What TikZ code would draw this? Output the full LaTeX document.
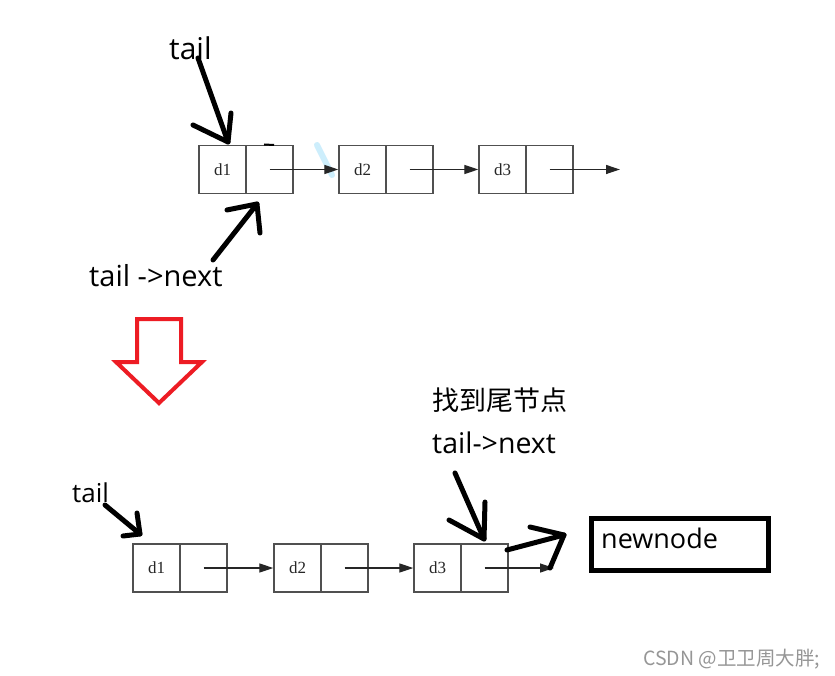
\documentclass[tikz,border=0pt]{standalone}
\usepackage{fontspec}
\setmainfont{Open Sans}
\newfontfamily\cjk{Noto Sans CJK SC}
\newfontfamily\dfont{Liberation Serif}
\usetikzlibrary{arrows.meta}
\definecolor{redarrow}{RGB}{237,28,36}
\definecolor{boxgray}{RGB}{80,80,80}
\definecolor{wmgray}{RGB}{150,150,150}
\definecolor{wmblue}{RGB}{205,238,252}
\tikzset{
  cell/.style={draw=boxgray, line width=1.4pt, minimum width=47pt, minimum height=48pt, inner sep=0pt, font=\dfont\fontsize{17}{17}\selectfont, text=black!85},
  link/.style={line width=1.2pt, draw=black!85, -{Triangle[length=14pt,width=9pt]}},
  hand/.style={line width=5pt, line cap=round, line join=round},
  lbl/.style={inner sep=0pt, anchor=base west},
}
\begin{document}
\begin{tikzpicture}[x=1pt,y=-1pt]
\useasboundingbox (0,0) rectangle (835,676);
\fill[white] (0,0) rectangle (835,676);

% ---- top list ----
\foreach \i/\x in {1/199,2/339,3/479}{
  \node[cell] (ta\i) at (\x+23.5,169.5) {d\i};
  \node[cell] (tn\i) at (\x+70.5,169.5) {};
}
\coordinate (tend) at (620,169.5);
\draw[wmblue, line width=6pt, line cap=round] (317,145) -- (332,175);
\draw[link] (tn1.center) -- (ta2.west);
\draw[link] (tn2.center) -- (ta3.west);
\draw[link] (tn3.center) -- (tend);
% small stroke
\draw[line width=2pt] (264,144.5) -- (274,145);

% top labels
\node[lbl, font=\fontsize{30}{36}\selectfont] (tailA) at (169,60) {tail};
\node[lbl, font=\fontsize{29}{34}\selectfont] (tailnextA) at (89,287) {tail ->next};

\coordinate (a1s) at (198,58);
\coordinate (a1t) at (228,142);
\coordinate (a1l) at (193,125);
\coordinate (a1r) at (231,113);
\draw[hand] (a1s) -- (a1t);
\draw[hand] (a1l) -- (a1t) -- (a1r);

\coordinate (a2s) at (213,260);
\coordinate (a2t) at (257,204);
\coordinate (a2l) at (227,210);
\coordinate (a2r) at (260,233);
\draw[hand] (a2s) -- (a2t);
\draw[hand] (a2l) -- (a2t) -- (a2r);

% ---- red down arrow ----
\draw[redarrow, line width=4pt, line join=miter]
  (137,319) -- (181,319) -- (181,362) -- (202,362) -- (159,403) -- (116,362) -- (137,362) -- cycle;

% ---- bottom list ----
\foreach \i/\x in {1/133,2/274,3/414}{
  \node[cell] (ba\i) at (\x+23.5,568) {d\i};
  \node[cell] (bn\i) at (\x+70.5,568) {};
}
\coordinate (bend) at (554,568);
\draw[link] (bn1.center) -- (ba2.west);
\draw[link] (bn2.center) -- (ba3.west);
\draw[link] (bn3.center) -- (bend);

\node[draw, line width=5pt, minimum width=177pt, minimum height=52pt, inner sep=0pt] (newbox) at (680,544.5) {};
\node[lbl, font=\fontsize{27}{32}\selectfont] (newtxt) at (601,548) {newnode};

\node[lbl, font=\fontsize{26}{32}\selectfont] (tailB) at (72,502) {tail};
\node[lbl, font=\cjk\fontsize{27}{32}\selectfont] (findtail) at (432,410) {找到尾节点};
\node[lbl, font=\fontsize{28.5}{32}\selectfont] (tailnextB) at (432,453) {tail->next};

\coordinate (b1s) at (105,505);
\coordinate (b1t) at (140,534);
\coordinate (b1l) at (123,536);
\coordinate (b1r) at (137,513);
\draw[hand] (b1s) -- (b1t);
\draw[hand] (b1l) -- (b1t) -- (b1r);

\coordinate (b2s) at (455,473);
\coordinate (b2t) at (484,539);
\coordinate (b2l) at (449,520);
\coordinate (b2r) at (485,502);
\draw[hand] (b2s) -- (b2t);
\draw[hand] (b2l) -- (b2t) -- (b2r);

\coordinate (b3s) at (507,550);
\coordinate (b3t) at (564,535);
\coordinate (b3l) at (530,527);
\coordinate (b3r) at (550,568);
\draw[hand] (b3s) -- (b3t);
\draw[hand] (b3l) -- (b3t) -- (b3r);

% watermark
\node[lbl, font=\cjk\fontsize{19.5}{21}\selectfont, text=wmgray] (wm) at (643,665) {CSDN @卫卫周大胖;};
\end{tikzpicture}
\end{document}
